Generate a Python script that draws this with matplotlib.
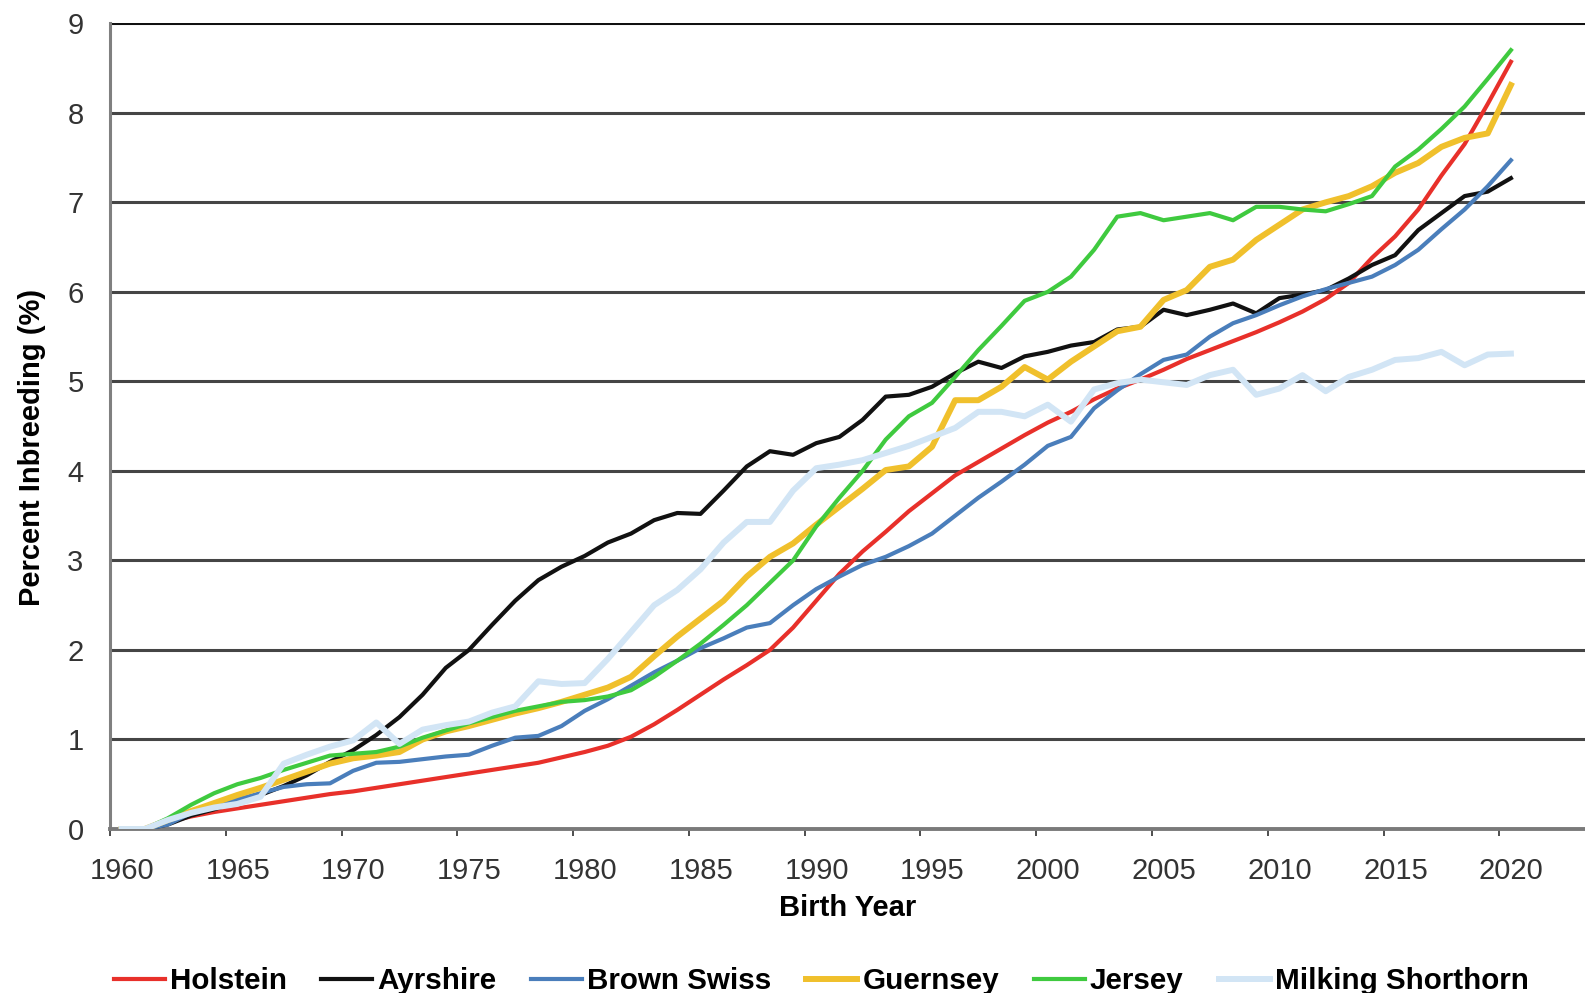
import numpy as np
import matplotlib
matplotlib.use("Agg")
import matplotlib.pyplot as plt
from matplotlib.transforms import ScaledTranslation

plt.rcParams["font.family"] = ["Liberation Sans", "DejaVu Sans"]

years = np.arange(1960, 2021)

holstein = [0, 0, 0.08, 0.14, 0.19, 0.23, 0.27, 0.31, 0.35, 0.39,
            0.42, 0.46, 0.50, 0.54, 0.58, 0.62, 0.66, 0.70, 0.74, 0.80,
            0.86, 0.93, 1.03, 1.17, 1.33, 1.50, 1.67, 1.83, 2.00, 2.25,
            2.55, 2.85, 3.10, 3.32, 3.55, 3.75, 3.95, 4.10, 4.25, 4.40,
            4.54, 4.66, 4.80, 4.92, 5.02, 5.13, 5.25, 5.35, 5.45, 5.55,
            5.66, 5.78, 5.92, 6.10, 6.38, 6.62, 6.92, 7.30, 7.65, 8.10,
            8.57]
ayrshire = [0, 0, 0.05, 0.15, 0.22, 0.30, 0.38, 0.48, 0.60, 0.75,
            0.88, 1.05, 1.25, 1.50, 1.80, 2.00, 2.28, 2.55, 2.78, 2.93,
            3.05, 3.20, 3.30, 3.45, 3.53, 3.52, 3.78, 4.05, 4.22, 4.18,
            4.31, 4.38, 4.57, 4.83, 4.85, 4.94, 5.09, 5.22, 5.15, 5.28,
            5.33, 5.40, 5.44, 5.58, 5.61, 5.80, 5.74, 5.80, 5.87, 5.76,
            5.93, 5.97, 6.02, 6.15, 6.30, 6.41, 6.69, 6.88, 7.07, 7.12,
            7.27]
brown_swiss = [0, 0, 0.05, 0.18, 0.26, 0.33, 0.40, 0.47, 0.50, 0.51,
               0.65, 0.74, 0.75, 0.78, 0.81, 0.83, 0.93, 1.02, 1.04, 1.15,
               1.32, 1.45, 1.60, 1.75, 1.88, 2.02, 2.13, 2.25, 2.30, 2.50,
               2.68, 2.82, 2.95, 3.04, 3.16, 3.30, 3.50, 3.70, 3.88, 4.07,
               4.28, 4.38, 4.70, 4.90, 5.08, 5.24, 5.30, 5.50, 5.65, 5.74,
               5.85, 5.95, 6.03, 6.10, 6.17, 6.30, 6.47, 6.70, 6.92, 7.18,
               7.47]
guernsey = [0, 0, 0.10, 0.20, 0.29, 0.38, 0.46, 0.55, 0.64, 0.73,
            0.79, 0.82, 0.86, 1.00, 1.09, 1.15, 1.22, 1.29, 1.35, 1.42,
            1.50, 1.58, 1.70, 1.93, 2.15, 2.35, 2.55, 2.82, 3.04, 3.19,
            3.40, 3.60, 3.80, 4.01, 4.05, 4.27, 4.79, 4.79, 4.94, 5.16,
            5.02, 5.22, 5.39, 5.56, 5.61, 5.91, 6.02, 6.28, 6.36, 6.58,
            6.75, 6.92, 7.00, 7.07, 7.18, 7.33, 7.44, 7.62, 7.72, 7.77,
            8.31]
jersey = [0, 0, 0.12, 0.27, 0.40, 0.50, 0.57, 0.66, 0.74, 0.82,
          0.84, 0.86, 0.92, 1.02, 1.10, 1.18, 1.25, 1.32, 1.37, 1.42,
          1.44, 1.48, 1.55, 1.70, 1.88, 2.07, 2.28, 2.50, 2.75, 3.00,
          3.38, 3.70, 4.00, 4.35, 4.61, 4.76, 5.05, 5.35, 5.62, 5.90,
          6.00, 6.17, 6.47, 6.84, 6.88, 6.80, 6.84, 6.88, 6.80, 6.95,
          6.95, 6.92, 6.90, 6.98, 7.07, 7.40, 7.59, 7.82, 8.07, 8.38,
          8.70]
shorthorn = [0, 0, 0.10, 0.18, 0.24, 0.28, 0.36, 0.73, 0.83, 0.92,
             0.99, 1.19, 0.95, 1.11, 1.16, 1.20, 1.30, 1.37, 1.65, 1.62,
             1.63, 1.90, 2.20, 2.50, 2.67, 2.90, 3.20, 3.43, 3.43, 3.78,
             4.03, 4.07, 4.12, 4.20, 4.28, 4.38, 4.48, 4.66, 4.66, 4.61,
             4.74, 4.55, 4.91, 4.98, 5.02, 4.99, 4.96, 5.07, 5.13, 4.85,
             4.92, 5.07, 4.89, 5.05, 5.13, 5.24, 5.26, 5.33, 5.18, 5.30,
             5.31]

breeds = ["Holstein", "Ayrshire", "Brown Swiss", "Guernsey", "Jersey", "Milking Shorthorn"]
series = [holstein, ayrshire, brown_swiss, guernsey, jersey, shorthorn]
colors = ["#e8302a", "#111111", "#4a7ebb", "#f0c02c", "#3fca3f", "#d2e5f5"]
widths = [3.0, 3.0, 3.0, 4.3, 3.0, 4.3]

fig = plt.figure(figsize=(15.85, 9.93), dpi=100)
ax = fig.add_axes([110 / 1585, 1 - 829 / 993, 1 - 110 / 1585, (829 - 23.3) / 993])

# grid lines first, data on top
for v in range(1, 10):
    ax.axhline(v, color="#111111" if v == 9 else "#454545", lw=2.2, zorder=1)

x = years + 0.5
for name, vals, c, lw in zip(breeds, series, colors, widths):
    ax.plot(x, vals, color=c, lw=lw, label=name, zorder=3, solid_joinstyle="round")

ax.set_xlim(1960, 2023.7)
ax.set_ylim(0, 9)
ax.set_xticks(np.arange(1960, 2021, 5))
ax.set_yticks(np.arange(0, 10, 1))

for s in ["top", "right"]:
    ax.spines[s].set_visible(False)
ax.spines["left"].set_color("#808080")
ax.spines["left"].set_linewidth(2.2)
ax.spines["bottom"].set_color("#7a7a7a")
ax.spines["bottom"].set_linewidth(2.8)

ax.tick_params(axis="y", length=0, pad=19, labelsize=21, labelcolor="#333333")
ax.tick_params(axis="x", direction="out", length=5, width=1.2, color="#303030",
               pad=15, labelsize=21, labelcolor="#333333")
shift = ScaledTranslation(0.12, 0, fig.dpi_scale_trans)
for lab in ax.get_xticklabels():
    lab.set_transform(lab.get_transform() + shift)

ax.set_xlabel("Birth Year", fontsize=21, fontweight="bold", labelpad=7)
ax.set_ylabel("Percent Inbreeding (%)", fontsize=21, fontweight="bold")
ax.yaxis.set_label_coords(-0.0434, 0.474)

fig.legend(loc="center", bbox_to_anchor=(0.518, 0.012), ncol=6, frameon=False,
           handlelength=1.72, handletextpad=0.17, columnspacing=1.18,
           prop={"size": 21.3, "weight": "bold"})

fig.savefig("out.png", dpi=100, facecolor="white")
